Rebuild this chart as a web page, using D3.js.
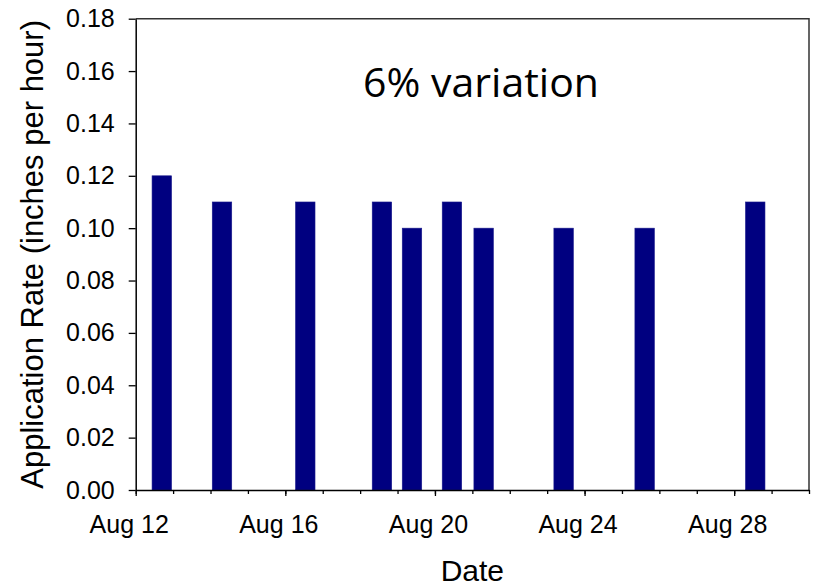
<!DOCTYPE html>
<html>
<head>
<meta charset="utf-8">
<script src="https://cdn.jsdelivr.net/npm/d3@7"></script>
<style>
  html, body { margin: 0; padding: 0; background: #fff; }
  svg { display: block; }
</style>
</head>
<body>
<svg id="chart" width="813" height="587"></svg>
<script>
// ---- data ----
const dates = [
  "2008-08-12T16:45", "2008-08-14T07:22", "2008-08-16T12:48", "2008-08-18T14:00",
  "2008-08-19T09:16", "2008-08-20T10:55", "2008-08-21T07:15", "2008-08-23T10:34",
  "2008-08-25T14:33", "2008-08-28T13:30"
];
const rates = [0.12, 0.11, 0.11, 0.11, 0.10, 0.11, 0.10, 0.10, 0.10, 0.11];
const xDomain = ["2008-08-12", "2008-08-30"];
const yTicks = [0, 0.02, 0.04, 0.06, 0.08, 0.10, 0.12, 0.14, 0.16, 0.18];
const majorTickDates = ["2008-08-12", "2008-08-16", "2008-08-20", "2008-08-24", "2008-08-28"];
const title = "6% variation";
const xTitle = "Date";
const yTitle = "Application Rate (inches per hour)";

(function () {
// ---- layout ----
const parseT = d3.timeParse("%Y-%m-%dT%H:%M");
const parseD = d3.timeParse("%Y-%m-%d");
const mLeft = 135.7, mRight = 809, mTop = 18.7, mBottom = 490;
const svg = d3.select("#chart");

const x = d3.scaleTime().domain(xDomain.map(parseD)).range([mLeft, mRight]);
const y = d3.scaleLinear().domain([0, 0.18]).range([mBottom, mTop]);

const barHalfMs = 6.25 * 3600 * 1000;
const data = dates.map((d, i) => ({ t: parseT(d), v: rates[i] }));

// bars
svg.append("g").selectAll("rect").data(data).join("rect")
  .attr("x", d => x(new Date(+d.t - barHalfMs)))
  .attr("width", d => x(new Date(+d.t + barHalfMs)) - x(new Date(+d.t - barHalfMs)))
  .attr("y", d => y(d.v))
  .attr("height", d => y(0) - y(d.v))
  .attr("fill", "#000080")
  .attr("stroke", "#1a1a8c")
  .attr("stroke-width", 0.6);

// frame (top and right)
svg.append("path")
  .attr("d", `M${mLeft},${mTop}H${mRight}V${mBottom}`)
  .attr("fill", "none").attr("stroke", "#333").attr("stroke-width", 1.5);

// y axis
const yAxis = svg.append("g").attr("transform", `translate(${mLeft},0)`)
  .call(d3.axisLeft(y).tickValues(yTicks).tickFormat(d3.format(".2f"))
        .tickSize(7).tickSizeOuter(0).tickPadding(14));
yAxis.selectAll("text").attr("font-family", "Liberation Sans, Arial, sans-serif")
  .attr("font-size", 25).attr("fill", "#000");
yAxis.selectAll("line").attr("stroke", "#000").attr("stroke-width", 1.3);
yAxis.select(".domain").attr("stroke", "#000").attr("stroke-width", 1.5);

// x axis minor ticks (daily)
const minor = svg.append("g").attr("transform", `translate(0,${mBottom})`)
  .call(d3.axisBottom(x).ticks(d3.timeDay.every(1)).tickFormat("").tickSize(4).tickSizeOuter(0));
minor.selectAll("line").attr("stroke", "#000").attr("stroke-width", 1.3);
minor.select(".domain").attr("stroke", "#000").attr("stroke-width", 1.5);

// x axis major ticks
const major = svg.append("g").attr("transform", `translate(0,${mBottom})`)
  .call(d3.axisBottom(x).tickValues(majorTickDates.map(parseD))
        .tickFormat(d3.timeFormat("%b %-d")).tickSize(6).tickSizeOuter(0).tickPadding(19));
major.select(".domain").remove();
major.selectAll("line").attr("stroke", "#000").attr("stroke-width", 1.3);
major.selectAll("text").attr("font-family", "Liberation Sans, Arial, sans-serif")
  .attr("font-size", 25).attr("fill", "#000").attr("dx", -7);

// axis titles
svg.append("text")
  .attr("x", (mLeft + mRight) / 2).attr("y", 581)
  .attr("text-anchor", "middle")
  .attr("font-family", "Liberation Sans, Arial, sans-serif").attr("font-size", 30)
  .text(xTitle);

svg.append("text")
  .attr("transform", `translate(43,${(mTop + mBottom) / 2}) rotate(-90)`)
  .attr("text-anchor", "middle")
  .attr("font-family", "Liberation Sans, Arial, sans-serif").attr("font-size", 31)
  .text(yTitle);

// annotation
svg.append("text")
  .attr("x", 481).attr("y", 96.5)
  .attr("text-anchor", "middle")
  .attr("font-family", "Open Sans, sans-serif").attr("font-size", 41)
  .text(title);
})();
</script>
</body>
</html>
